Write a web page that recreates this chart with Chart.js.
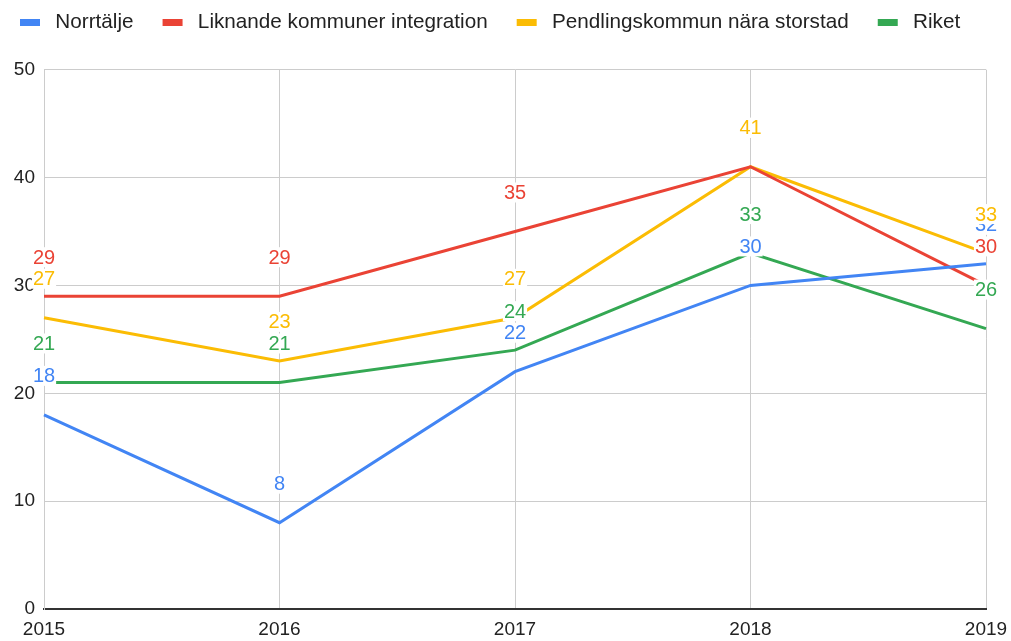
<!DOCTYPE html>
<html>
<head>
<meta charset="utf-8">
<script src="https://cdn.jsdelivr.net/npm/chart.js@4"></script>
<style>
  html, body { margin: 0; padding: 0; background: #fff; }
  #wrap { width: 1011px; height: 641px; }
</style>
</head>
<body>
<div id="wrap"><canvas id="lineChart"></canvas></div>
<script>
const years = ['2015', '2016', '2017', '2018', '2019'];
const norrtalje = [18, 8, 22, 30, 32];
const liknande = [29, 29, 35, 41, 30];
const pendling = [27, 23, 27, 41, 33];
const riket = [21, 21, 24, 33, 26];

const FONT = '"Liberation Sans", Arial, sans-serif';

// legend marker: a 20x7 bar with room on the left for spacing
function legendMark(color) {
    const c = document.createElement('canvas');
    c.width = 44;
    c.height = 7;
    const g = c.getContext('2d');
    g.fillStyle = color;
    g.fillRect(19, 0, 20, 7);
    return c;
}

const pointLabels = {
    id: 'pointLabels',
    afterDatasetsDraw(chart) {
        const ctx = chart.ctx;
        ctx.save();
        ctx.font = '20px ' + FONT;
        ctx.textAlign = 'center';
        ctx.textBaseline = 'middle';
        chart.data.datasets.forEach((ds, i) => {
            chart.getDatasetMeta(i).data.forEach((pt, j) => {
                const txt = String(ds.data[j]);
                const w = ctx.measureText(txt).width;
                const y = pt.y - 39;
                ctx.fillStyle = '#fff';
                ctx.fillRect(pt.x - w / 2 - 1, y - 10, w + 2, 20);
                ctx.fillStyle = ds.borderColor;
                ctx.fillText(txt, pt.x, y + 1);
            });
        });
        ctx.restore();
    }
};

const legendSpace = {
    id: 'legendSpace',
    beforeInit(chart) {
        const fit = chart.legend.fit;
        chart.legend.fit = function () {
            fit.bind(chart.legend)();
            this.height += 29;
        };
    },
    afterLayout(chart) {
        chart.legend.left = -9;
        chart.legend.top = 2;
    }
};

const series = [
    { label: 'Norrtälje', data: norrtalje, color: '#4285F4' },
    { label: 'Liknande kommuner integration', data: liknande, color: '#EA4335' },
    { label: 'Pendlingskommun nära storstad', data: pendling, color: '#FBBC04' },
    { label: 'Riket', data: riket, color: '#34A853' }
];

new Chart(document.getElementById('lineChart'), {
    type: 'line',
    data: {
        labels: years,
        datasets: series.map(s => ({
            label: s.label,
            data: s.data,
            borderColor: s.color,
            backgroundColor: s.color,
            borderWidth: 3,
            pointRadius: 0,
            tension: 0,
            fill: false
        }))
    },
    options: {
        responsive: true,
        maintainAspectRatio: false,
        animation: false,
        layout: { padding: { top: 0, right: 25, left: 0, bottom: 0 } },
        plugins: {
            tooltip: { enabled: false },
            legend: {
                position: 'top',
                align: 'start',
                labels: {
                    color: '#222',
                    font: { family: FONT, size: 20.7 },
                    padding: 10,
                    usePointStyle: true,
                    pointStyleWidth: 44,
                    boxHeight: 7,
                    generateLabels: chart => {
                        const items = Chart.defaults.plugins.legend.labels.generateLabels(chart);
                        items.forEach(it => {
                            it.pointStyle = legendMark(series[it.datasetIndex].color);
                        });
                        return items;
                    }
                }
            }
        },
        scales: {
            x: {
                afterFit: scale => {
                    scale.height = 32;
                    scale.paddingLeft = 0;
                    scale.paddingRight = 0;
                },
                grid: { color: '#ccc', drawTicks: false },
                border: { color: '#333', width: 2 },
                ticks: { color: '#222', font: { family: FONT, size: 19 }, padding: 9, maxRotation: 0 }
            },
            y: {
                min: 0,
                max: 50,
                afterFit: scale => { scale.width = 44; },
                grid: { color: '#ccc', drawTicks: false },
                border: { color: '#ccc' },
                ticks: { stepSize: 10, color: '#222', font: { family: FONT, size: 19 }, padding: 9 }
            }
        }
    },
    plugins: [legendSpace, pointLabels]
});
</script>
</body>
</html>
